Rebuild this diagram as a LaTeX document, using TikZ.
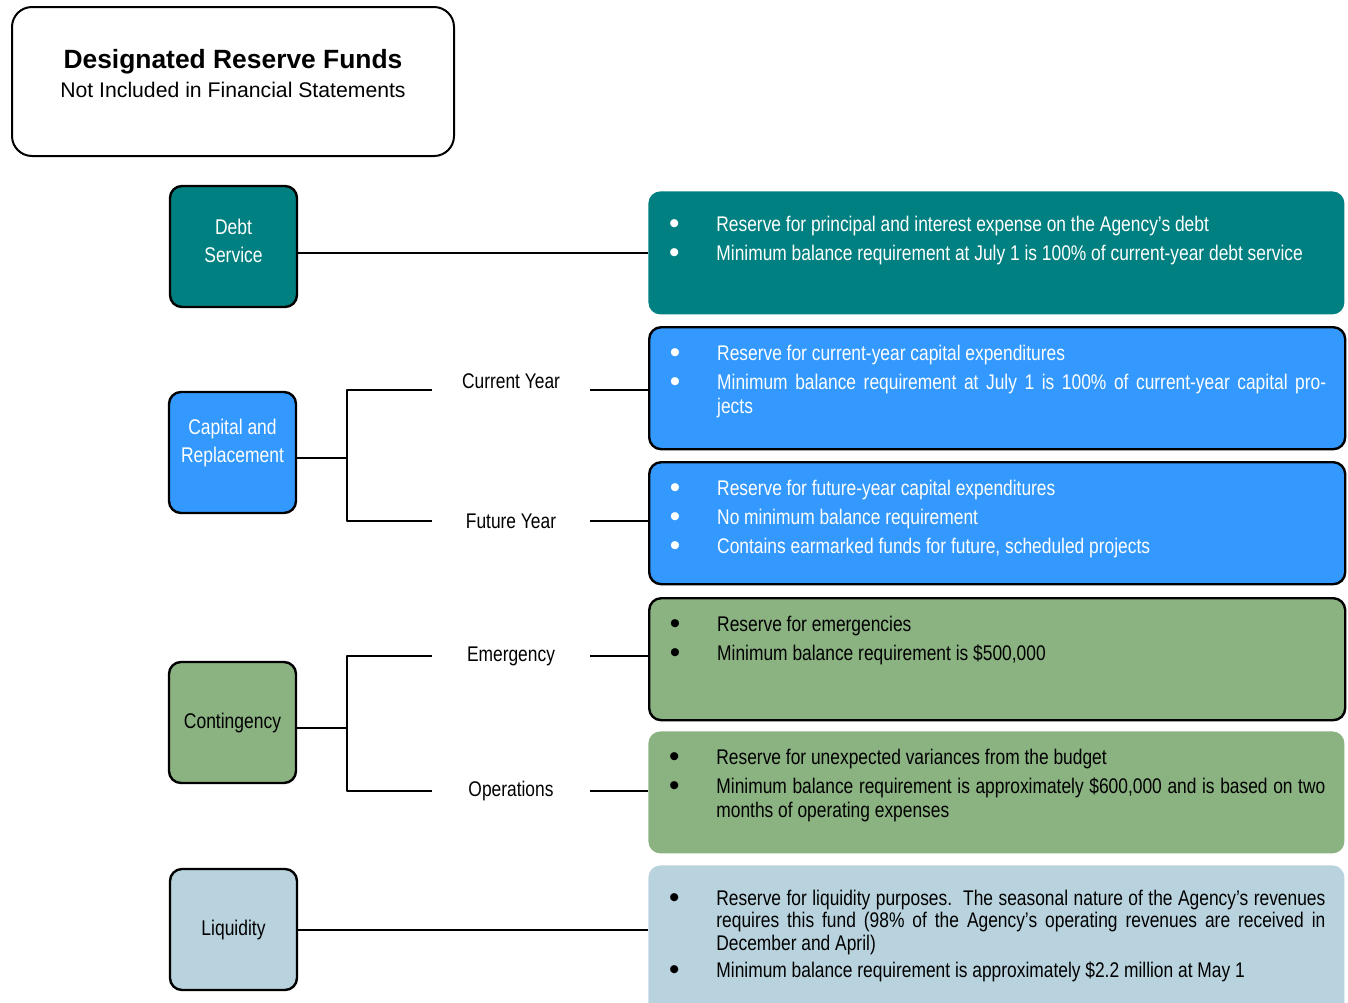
\documentclass[tikz,border=0pt]{standalone}
\usepackage{fontspec}
\setmainfont{Liberation Sans}
\newfontfamily\narrowsans[FakeStretch=0.82]{Liberation Sans}
\definecolor{dsteal}{RGB}{0,128,128}
\definecolor{crblue}{RGB}{51,153,255}
\definecolor{cogreen}{RGB}{139,178,129}
\definecolor{lqblue}{RGB}{184,211,222}
\newcommand\fitem{\par\noindent\llap{\raisebox{-0.9pt}{\scalebox{1.4}{\normalfont\textbullet}}\hspace{18.5pt}}\strut}
\newcommand\infotext[3]{\parbox[c][#1][t]{348pt}{\leftskip=34pt \rightskip=9.5pt \parskip=2.5pt \vspace*{#2}#3}}
\begin{document}
\begin{tikzpicture}[x=0.5pt,y=-0.5pt,line join=round,
    fundbox/.style={draw,line width=1.2pt,rounded corners=6pt,minimum width=63.5pt,minimum height=60.5pt,inner sep=0pt,align=center,font=\narrowsans\fontsize{10.65}{14}\selectfont},
    infobox/.style={rounded corners=6pt,inner sep=0pt,anchor=north west,font=\narrowsans\fontsize{10.6}{12}\selectfont},
    edged/.style={draw,line width=1.2pt},
    sublbl/.style={minimum width=79pt,inner sep=0pt,font=\narrowsans\fontsize{10.6}{13}\selectfont},
    link/.style={line width=1pt}]
  \clip (0,0) rectangle (1348,1002);
  % heading
  \node[draw,line width=1pt,rounded corners=10pt,minimum width=221pt,minimum height=74.5pt,align=center] (title) at (233,81.5)
    {{\fontsize{13.2}{15.5}\selectfont\bfseries Designated Reserve Funds}\\[2.5pt]
     {\fontsize{10.6}{15.5}\selectfont Not Included in Financial Statements}\rule[-8pt]{0pt}{0pt}};
  % funds
  \node[fundbox,fill=dsteal,text=white] (debt) at (233.5,246.5) {Debt\\Service\rule[-6pt]{0pt}{0pt}};
  \node[fundbox,fill=crblue,text=white] (capital) at (232.5,452.5) {Capital and\\Replacement\rule[-12pt]{0pt}{0pt}};
  \node[fundbox,fill=cogreen] (conting) at (232.5,722.5) {Contingency};
  \node[fundbox,fill=lqblue] (liquid) at (233.5,929.5) {Liquidity};
  % descriptions
  \node[infobox,fill=dsteal,text=white] (debtinfo) at (648,191) {\infotext{61.5pt}{9.35pt}{%
    \fitem Reserve for principal and interest expense on the Agency’s debt
    \fitem Minimum balance requirement at July 1 is 100\% of current-year debt service}};
  \node[infobox,edged,fill=crblue,text=white] (curinfo) at (648,326) {\infotext{61pt}{5.85pt}{%
    \fitem Reserve for current-year capital expenditures
    \fitem Minimum balance requirement at July 1 is 100\% of current-year capital pro-\linebreak jects}};
  \node[infobox,edged,fill=crblue,text=white] (futinfo) at (648,461) {\infotext{61pt}{5.85pt}{%
    \fitem Reserve for future-year capital expenditures
    \fitem No minimum balance requirement
    \fitem Contains earmarked funds for future, scheduled projects}};
  \node[infobox,edged,fill=cogreen] (emerinfo) at (648,597) {\infotext{61pt}{5.85pt}{%
    \fitem Reserve for emergencies
    \fitem Minimum balance requirement is \$500,000}};
  \node[infobox,fill=cogreen] (operinfo) at (648,731) {\infotext{61pt}{5.85pt}{%
    \fitem Reserve for unexpected variances from the budget
    \fitem Minimum balance requirement is approximately \$600,000 and is based on two \linebreak months of operating expenses}};
  \node[infobox,fill=lqblue,font=\narrowsans\fontsize{10.6}{11.25}\selectfont] (liqinfo) at (648,865) {\infotext{75pt}{9.6pt}{%
    \fitem Reserve for liquidity purposes.\ \ The seasonal nature of the Agency’s revenues \linebreak requires this fund (98\% of the Agency’s operating revenues are received in \linebreak December and April)
    \fitem Minimum balance requirement is approximately \$2.2 million at May 1}};
  % sub-funds
  \node[sublbl] (curyr) at (511,390) {Current Year\rule[-9pt]{0pt}{0pt}};
  \node[sublbl] (futyr) at (511,521) {Future Year};
  \node[sublbl] (emerg) at (511,656) {Emergency};
  \node[sublbl] (oper) at (511,791) {Operations};
  \coordinate (capfork) at (347,458);
  \coordinate (confork) at (347,728);
  % connectors
  \draw[link] (debt.east |- debtinfo.west) -- (debtinfo.west);
  \draw[link] (capital.east |- capfork) -- (capfork);
  \draw[link] (curyr.west) -| (capfork) |- (futyr.west);
  \draw[link] (curyr.east) -- (curinfo.west |- curyr.east);
  \draw[link] (futyr.east) -- (futinfo.west |- futyr.east);
  \draw[link] (conting.east |- confork) -- (confork);
  \draw[link] (emerg.west) -| (confork) |- (oper.west);
  \draw[link] (emerg.east) -- (emerinfo.west |- emerg.east);
  \draw[link] (oper.east) -- (operinfo.west |- oper.east);
  \draw[link] (liquid.east) -- (liquid.east -| liqinfo.west);
\end{tikzpicture}
\end{document}
